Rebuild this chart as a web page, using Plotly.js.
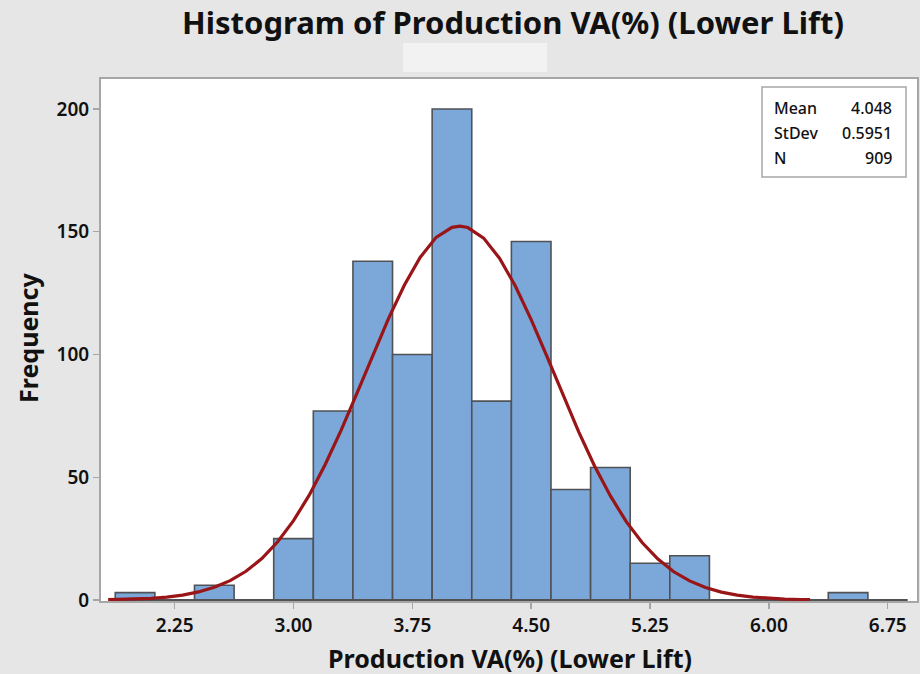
<!DOCTYPE html>
<html>
<head>
<meta charset="utf-8">
<script src="https://cdn.plot.ly/plotly-3.0.1.min.js"></script>
<style>
  html, body { margin: 0; padding: 0; background: #e6e6e6; }
  #chart { width: 920px; height: 674px; }
</style>
</head>
<body>
<div id="chart"></div>
<script>
// Histogram bins (centres) and counts
const binCenters = [2.00, 2.25, 2.50, 2.75, 3.00, 3.25, 3.50, 3.75, 4.00, 4.25,
                    4.50, 4.75, 5.00, 5.25, 5.50, 5.75, 6.00, 6.25, 6.50, 6.75];
const counts     = [3, 0, 6, 0, 25, 77, 138, 100, 200, 81,
                    146, 45, 54, 15, 18, 0, 0, 0, 3, 0];
const binWidth = 0.25;

// Fitted curve, points
const curveX = [1.83, 1.9, 2.0, 2.1, 2.2, 2.3, 2.4, 2.5, 2.6, 2.7, 2.8, 2.9,
                3.0, 3.1, 3.2, 3.3, 3.4, 3.5, 3.6, 3.7, 3.8, 3.9, 4.0, 4.05,
                4.1, 4.2, 4.3, 4.4, 4.5, 4.6, 4.7, 4.8, 4.9, 5.0, 5.1, 5.2,
                5.3, 5.4, 5.5, 5.6, 5.7, 5.8, 5.9, 6.0, 6.1, 6.2, 6.26];
const curveY = [0.15, 0.23, 0.4, 0.7, 1.2, 2.0, 3.3, 5.2, 7.9, 11.7, 16.9, 23.7,
                32.3, 42.8, 55.2, 69.1, 84.2, 99.7, 114.7, 128.3, 139.6, 147.7, 151.8, 152.3,
                151.7, 147.4, 139.2, 127.9, 114.2, 99.1, 83.6, 68.5, 54.6, 42.4, 31.9, 23.4,
                16.7, 11.5, 7.8, 5.1, 3.2, 2.0, 1.2, 0.7, 0.4, 0.22, 0.15];

// Summary statistics box
const statLabels = ["Mean", "StDev", "N"];
const statValues = ["4.048", "0.5951", "909"];

const titleText = "Histogram of Production VA(%) (Lower Lift)";
const xTitle = "Production VA(%) (Lower Lift)";
const yTitle = "Frequency";
const xTickVals = [2.25, 3.00, 3.75, 4.50, 5.25, 6.00, 6.75];
const yTickVals = [0, 50, 100, 150, 200];

const FONT = "Noto Sans, Open Sans, DejaVu Sans, sans-serif";

const baseX = [binCenters[0] - binWidth / 2, binCenters[binCenters.length - 1] + binWidth / 2];

const traces = [
  {
    type: "bar",
    x: binCenters,
    y: counts,
    width: binWidth,
    marker: { color: "#7ba7d9", line: { color: "#505256", width: 1.6 } },
    hoverinfo: "x+y"
  },
  {
    type: "scatter",
    mode: "lines",
    x: baseX,
    y: [0, 0],
    line: { color: "#505256", width: 2.2 },
    hoverinfo: "skip"
  },
  {
    type: "scatter",
    mode: "lines",
    x: curveX,
    y: curveY,
    line: { color: "#9a1518", width: 3.2 },
    hoverinfo: "skip"
  }
];

const P = { l: 101, r: 917, t: 79, b: 601, W: 920, H: 674 };
const px = v => (v - P.l) / (P.r - P.l);
const py = v => (P.b - v) / (P.b - P.t);

const annotations = [
  {
    text: "<b>" + xTitle + "</b>", xref: "paper", yref: "paper",
    x: px(510), y: py(658), xanchor: "center", yanchor: "middle",
    showarrow: false, font: { family: FONT, size: 25, color: "#111" }
  },
  {
    text: "<b>" + yTitle + "</b>", xref: "paper", yref: "paper",
    x: px(28), y: py(338), xanchor: "center", yanchor: "middle",
    textangle: -90, showarrow: false, font: { family: FONT, size: 25, color: "#111" }
  }
];
const rowY = [108, 133, 158];
statLabels.forEach((lab, i) => {
  annotations.push({
    text: lab, xref: "paper", yref: "paper", x: px(772), y: py(rowY[i]),
    xanchor: "left", yanchor: "middle", showarrow: false,
    font: { family: FONT, size: 16, color: "#111", weight: 500 }
  });
  annotations.push({
    text: statValues[i], xref: "paper", yref: "paper", x: px(894), y: py(rowY[i]),
    xanchor: "right", yanchor: "middle", showarrow: false,
    font: { family: FONT, size: 16, color: "#111", weight: 500 }
  });
});

const layout = {
  width: 920, height: 674,
  paper_bgcolor: "#e6e6e6",
  plot_bgcolor: "#ffffff",
  margin: { l: P.l, r: P.W - P.r, t: P.t, b: P.H - P.b, pad: 0 },
  showlegend: false,
  bargap: 0,
  title: {
    text: "<b>" + titleText + "</b>",
    xref: "container", yref: "container",
    x: 513 / 920, y: 1 - 23 / 674, xanchor: "center", yanchor: "middle",
    font: { family: FONT, size: 31, color: "#111" }
  },
  xaxis: {
    range: [1.785, 6.935],
    tickvals: xTickVals,
    tickformat: ".2f",
    ticks: "outside", ticklen: 6, tickwidth: 1.5, tickcolor: "#a6a6a6",
    showline: true, linecolor: "#a6a6a6", linewidth: 2, mirror: true,
    showgrid: false, zeroline: false,
    tickfont: { family: FONT, size: 19, color: "#111", weight: 600 }
  },
  yaxis: {
    range: [-0.4, 212.2],
    tickvals: yTickVals,
    ticks: "outside", ticklen: 6, tickwidth: 1.5, tickcolor: "#a6a6a6",
    showline: true, linecolor: "#a6a6a6", linewidth: 2, mirror: true,
    showgrid: false, zeroline: false,
    tickfont: { family: FONT, size: 19, color: "#111", weight: 600 }
  },
  shapes: [
    {
      type: "rect", xref: "paper", yref: "paper",
      x0: px(403), x1: px(547), y0: py(72), y1: py(43),
      fillcolor: "#f2f2f2", line: { width: 0 }, layer: "above"
    },
    {
      type: "rect", xref: "paper", yref: "paper",
      x0: px(762), x1: px(906), y0: py(177), y1: py(87),
      fillcolor: "#ffffff", line: { color: "#a6a6a6", width: 1.5 }, layer: "above"
    }
  ],
  annotations: annotations
};

Plotly.newPlot("chart", traces, layout, { displayModeBar: false, staticPlot: true });
</script>
</body>
</html>
